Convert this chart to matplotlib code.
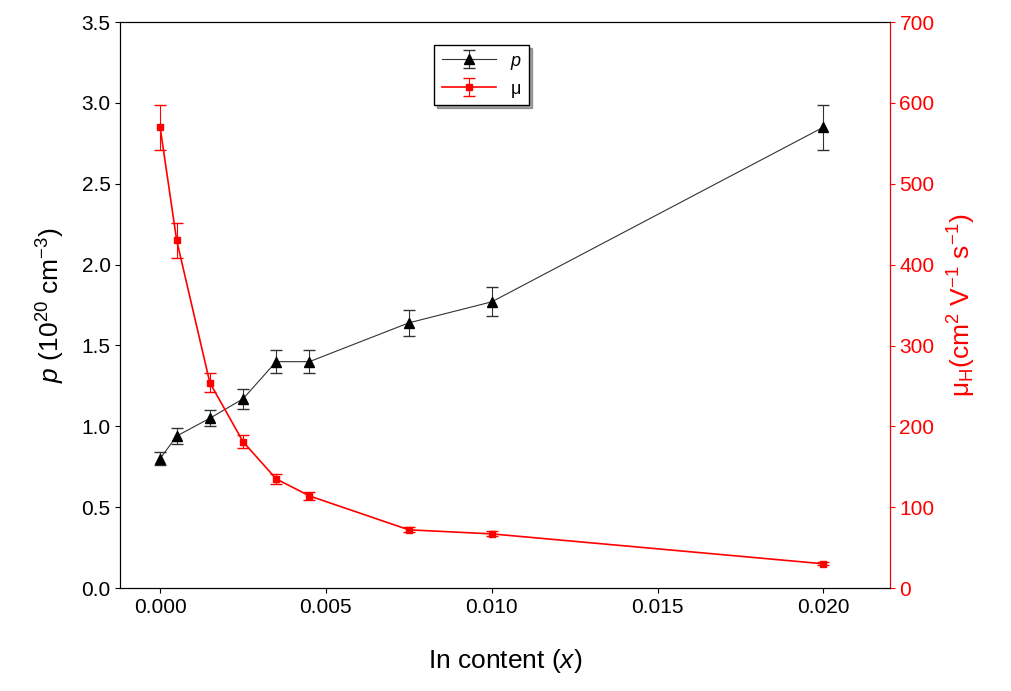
import matplotlib.pyplot as plt

x = [0, 0.0005, 0.0015, 0.0025, 0.0035, 0.0045, 0.0075, 0.010, 0.020]
p = [0.80, 0.94, 1.05, 1.17, 1.40, 1.40, 1.64, 1.77, 2.85]
p_err = [0.04, 0.05, 0.05, 0.06, 0.07, 0.07, 0.08, 0.09, 0.14]
mu = [570, 430, 254, 181, 135, 114, 72, 67, 30]
mu_err = [28, 22, 12, 8, 6, 5, 3, 3, 2]

plt.rcParams['font.family'] = ['Liberation Sans', 'DejaVu Sans']
plt.rcParams['mathtext.fontset'] = 'custom'
plt.rcParams['mathtext.rm'] = 'Liberation Sans'
plt.rcParams['mathtext.it'] = 'Liberation Sans:italic'
fig, ax = plt.subplots(figsize=(10.11, 6.91), dpi=100)
fig.subplots_adjust(left=0.119, right=0.88, top=0.968, bottom=0.149)

l1 = ax.errorbar(x, p, yerr=p_err, color='#333333', lw=0.8, marker='^', ms=7,
                 mfc='black', mec='black', capsize=4, elinewidth=0.8, label='$p$')
ax2 = ax.twinx()
l2 = ax2.errorbar(x, mu, yerr=mu_err, color='red', lw=1.2, marker='s', ms=5,
                  capsize=4, elinewidth=0.8, label='μ')

ax.set_xlim(-0.0012, 0.022)
ax.set_ylim(0, 3.5)
ax2.set_ylim(0, 700)
ax.set_xticks([0, 0.005, 0.010, 0.015, 0.020])
ax.set_xticklabels(['0.000', '0.005', '0.010', '0.015', '0.020'])
ax.set_yticks([i * 0.5 for i in range(8)])
ax.set_yticklabels(['%.1f' % (i * 0.5) for i in range(8)])
ax.tick_params(labelsize=15)
ax2.tick_params(labelsize=15, colors='red')
ax2.spines['right'].set_color('red')
ax.set_xlabel('In content ($x$)', fontsize=19, labelpad=22)
ax.set_ylabel('$p$ (10$^{20}$ cm$^{-3}$)', fontsize=19, labelpad=10)
ax2.set_ylabel('μ$_\\mathrm{H}$(cm$^2$ V$^{-1}$ s$^{-1}$)', fontsize=19, color='red', labelpad=8)

leg = ax.legend([l1, l2], ['$p$', 'μ'], loc='upper center', bbox_to_anchor=(0.47, 0.975),
                fontsize=13, shadow=True, fancybox=False, edgecolor='black', framealpha=1,
                handlelength=3)
fig.savefig('out.png')
